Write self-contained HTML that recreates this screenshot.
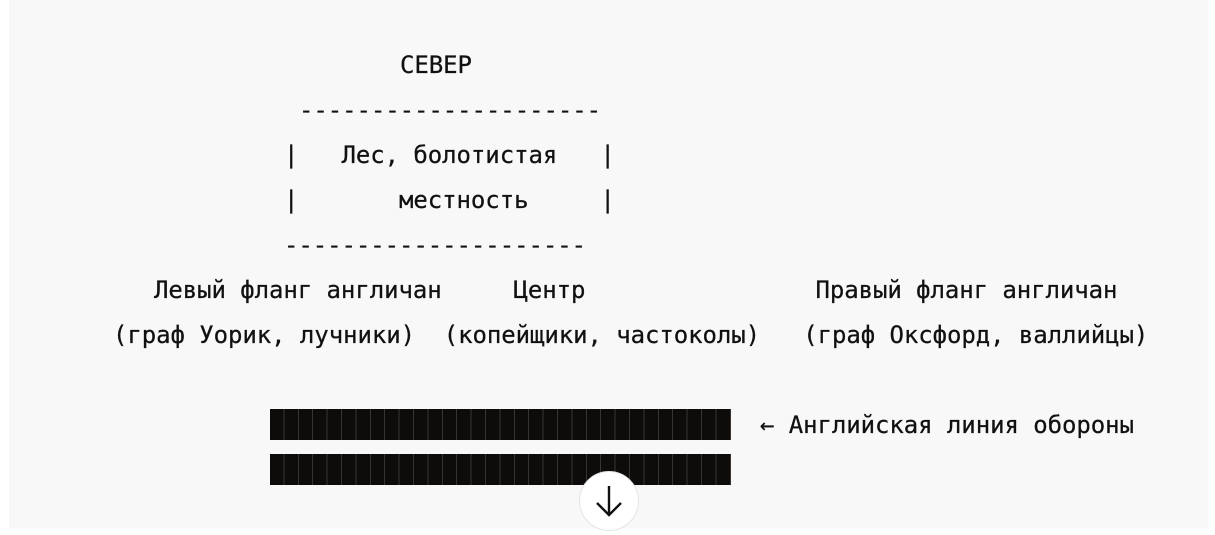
<!DOCTYPE html>
<html><head><meta charset="utf-8"><style>
html,body{margin:0;padding:0;width:1215px;height:528px;overflow:hidden;background:#fff;}
.panel{position:absolute;left:9px;top:0;width:1199px;height:528px;background:#f8f8f8;}
.t{position:absolute;white-space:pre;font-family:"DejaVu Sans Mono","Liberation Mono",monospace;font-size:24px;line-height:30px;color:#111;letter-spacing:-0.07px;-webkit-text-stroke:0.25px #111;}
.bar{position:absolute;left:270px;width:461px;height:31px;background:#0e0b0b;
background-image:repeating-linear-gradient(90deg,#0e0b0b 0,#0e0b0b 13.4px,#3a3430 13.4px,#3a3430 14.4px);}
.circ{position:absolute;left:579px;top:471px;width:58px;height:58px;border-radius:50%;background:#fff;border:1px solid #e4e4e4;}
</style></head><body>
<div class="panel"></div>
<div class="t" style="left:400px;top:50px">СЕВЕР</div>
<div class="t" style="left:299px;top:95px">---------------------</div>
<div class="t" style="left:284px;top:140px">|   Лес, болотистая   |</div>
<div class="t" style="left:284px;top:185px">|       местность     |</div>
<div class="t" style="left:284px;top:230px">---------------------</div>
<div class="t" style="left:154px;top:275px">Левый фланг англичан     Центр                Правый фланг англичан</div>
<div class="t" style="left:113px;top:320px">(граф Уорик, лучники)  (копейщики, частоколы)   (граф Оксфорд, валлийцы)</div>
<div class="bar" style="top:409px"></div>
<div class="bar" style="top:454px"></div>
<div class="t" style="left:760px;top:410px">← Английская линия обороны</div>
<div class="circ"><svg width="58" height="58" viewBox="0 0 58 58"><path d="M29 14 V43 M17 31 L29 43 L41 31" fill="none" stroke="#111" stroke-width="2.4"/></svg></div>
</body></html>
